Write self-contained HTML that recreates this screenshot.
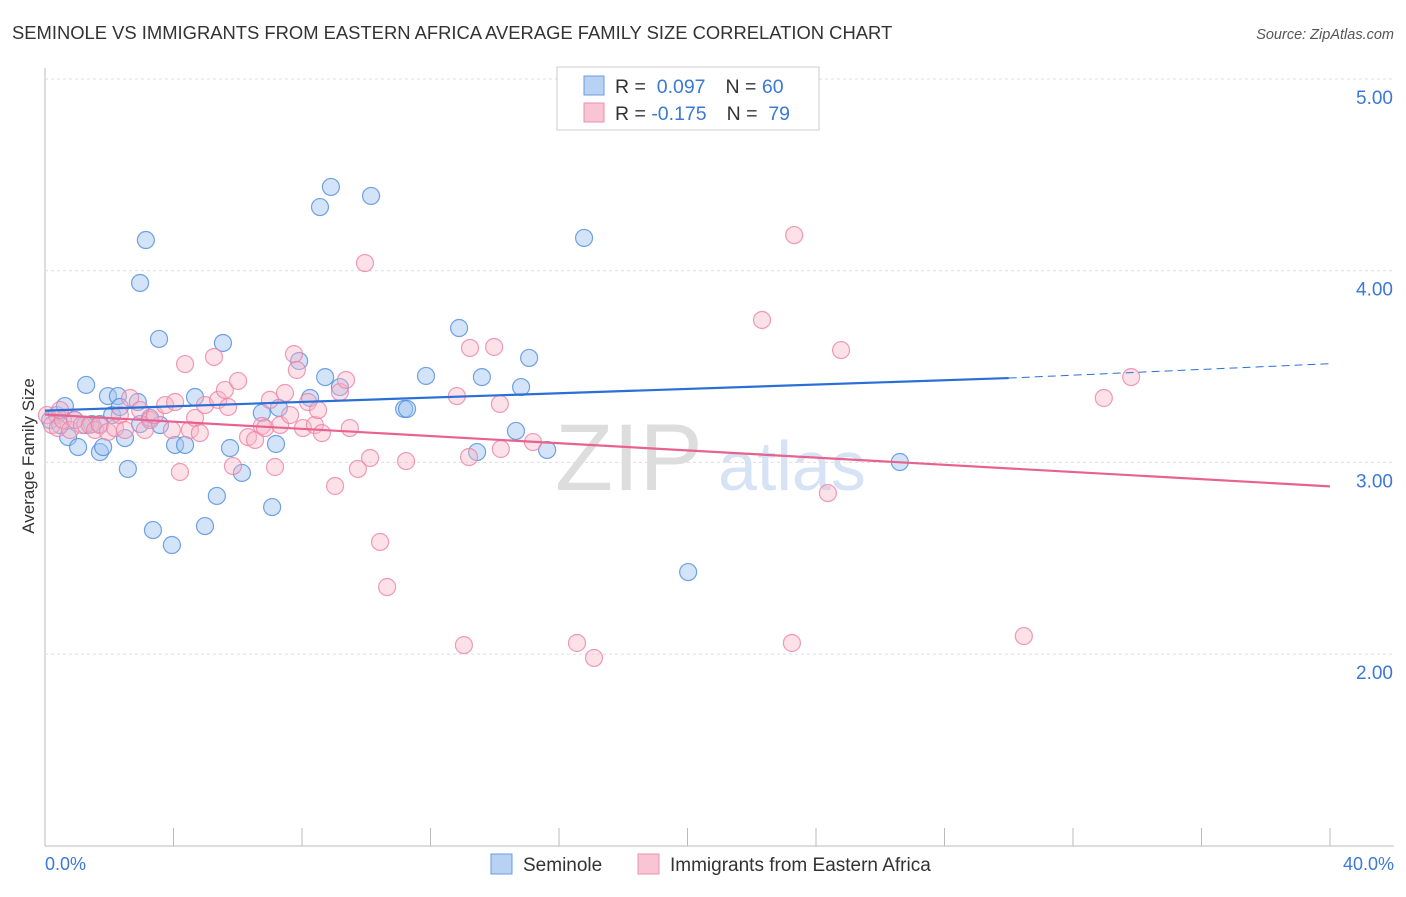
<!DOCTYPE html>
<html><head><meta charset="utf-8"><style>
body{margin:0;background:#fff;font-family:"Liberation Sans",sans-serif}
svg text{font-family:"Liberation Sans",sans-serif}
</style></head><body>
<svg id="c" width="1406" height="892">
<text x="12" y="39" font-size="18.4" fill="#333">SEMINOLE VS IMMIGRANTS FROM EASTERN AFRICA AVERAGE FAMILY SIZE CORRELATION CHART</text>
<text x="1394" y="39" font-size="14.5" fill="#555" text-anchor="end" font-style="italic">Source: ZipAtlas.com</text>
<text x="34" y="456" font-size="17" fill="#333" text-anchor="middle" transform="rotate(-90 34 456)">Average Family Size</text>
<text x="555" y="490" font-size="95" fill="#ddd" font-family="Liberation Serif">ZIP</text>
<text x="718" y="490" font-size="70" fill="#d6e3f5">atlas</text>
<g id="grid"></g><g id="pts"></g><g id="lines"></g>
<g>
<rect x="557" y="67" width="262" height="63" fill="#fff" stroke="#ccc"/>
<rect x="584" y="76" width="20" height="19" fill="#b8d2f3" stroke="#6a9be0"/>
<rect x="584" y="103" width="20" height="19" fill="#f9c5d4" stroke="#ec8fab"/>
<text x="615" y="93" font-size="19.5" fill="#333">R = <tspan fill="#3b78d8">&#160;0.097</tspan><tspan dx="20" fill="#333">N = </tspan><tspan fill="#3b78d8">60</tspan></text>
<text x="615" y="120" font-size="19.5" fill="#333">R = <tspan fill="#3b78d8">-0.175</tspan><tspan dx="20" fill="#333">N = </tspan><tspan fill="#3b78d8">&#160;79</tspan></text>
</g>
<g>
<rect x="491" y="854" width="21" height="20" fill="#b8d2f3" stroke="#6a9be0"/>
<text x="523" y="871" font-size="19" fill="#333">Seminole</text>
<rect x="638" y="854" width="21" height="20" fill="#f9c5d4" stroke="#ec8fab"/>
<text x="670" y="871" font-size="19" fill="#333">Immigrants from Eastern Africa</text>
</g>
<text x="45" y="870" font-size="18" fill="#3b78d8">0.0%</text>
<text x="1394" y="870" font-size="18" fill="#3b78d8" text-anchor="end">40.0%</text>
</svg>
<script>
const yTicks=[2,3,4,5];
const yTickLabels=["2.00","3.00","4.00","5.00"];
const xTicks=[0,4,8,12,16,20,24,28,32,36,40];
const bluePx=[[50,420],[57,415],[65,406],[68,437],[75,420],[78,447],[86,385],[92,424],[100,452],[103,447],[108,396],[112,415],[118,396],[120,407],[125,438],[128,469],[138,402],[140,283],[140,424],[146,240],[150,418],[153,530],[159,339],[172,545],[175,445],[185,445],[195,397],[205,526],[217,496],[223,343],[230,448],[242,473],[262,413],[272,507],[276,444],[279,408],[299,361],[310,398],[320,207],[325,377],[331,187],[340,387],[371,196],[404,409],[407,409],[426,376],[459,328],[477,452],[482,377],[516,431],[521,387],[529,358],[547,450],[584,238],[688,572],[900,462],[100,424],[60,425],[85,425],[160,425]];
const pinkPx=[[47,415],[52,425],[58,428],[63,420],[70,430],[75,420],[82,425],[90,425],[95,430],[100,425],[108,432],[115,428],[120,415],[125,430],[130,398],[140,410],[145,430],[150,420],[155,415],[165,405],[172,430],[175,402],[180,472],[185,364],[190,430],[195,418],[200,433],[205,405],[214,357],[218,400],[225,390],[228,407],[233,466],[238,381],[248,437],[255,440],[262,426],[265,428],[270,400],[275,467],[280,425],[285,393],[290,415],[294,354],[297,370],[303,428],[308,402],[315,425],[318,410],[322,433],[335,486],[340,392],[346,380],[350,428],[358,469],[365,263],[370,458],[380,542],[387,587],[406,461],[457,396],[464,645],[469,457],[470,348],[494,347],[500,404],[501,449],[533,442],[577,643],[594,658],[762,320],[792,643],[794,235],[828,493],[841,350],[1024,636],[1104,398],[1131,377],[60,410]];
const seminoleX=bluePx.map(p=>+((p[0]-45)/1285*40).toFixed(2));
const seminoleY=bluePx.map(p=>+(5-(p[1]-79)/191.7).toFixed(3));
const immigrantsX=pinkPx.map(p=>+((p[0]-45)/1285*40).toFixed(2));
const immigrantsY=pinkPx.map(p=>+(5-(p[1]-79)/191.7).toFixed(3));
const blueTrend=[3.27,3.44,3.515];
const pinkTrend=[3.25,2.875];
const X=v=>45+v/40*1285, Y=v=>79+(5-v)*191.7;
const NS="http://www.w3.org/2000/svg";
function mk(t,a,p){const e=document.createElementNS(NS,t);for(const k in a)e.setAttribute(k,a[k]);p.appendChild(e);return e;}
const g=document.getElementById('grid');
mk('line',{x1:45,y1:68,x2:45,y2:846,stroke:'#bbb'},g);
mk('line',{x1:45,y1:846,x2:1394,y2:846,stroke:'#bbb'},g);
yTicks.forEach((t,i)=>{
 const l=mk('line',{x1:45,y1:Y(t),x2:1394,y2:Y(t),stroke:'#ddd','stroke-dasharray':'3,3'},g);
 
 
 const tx=mk('text',{x:1393,y:Y(t)+25,'font-size':19,fill:'#3b78d8','text-anchor':'end'},g);
 tx.textContent=yTickLabels[i];
 
 
});
xTicks.forEach(t=>{
 const l=mk('line',{x1:X(t),y1:828,x2:X(t),y2:846,stroke:'#bbb'},g);
 
 
});
const P=document.getElementById('pts');
function dots(xs,ys,fill,stroke,name){xs.forEach((x,i)=>{
 const c=mk('circle',{cx:X(x),cy:Y(ys[i]),r:8.5,fill:fill,stroke:stroke,'stroke-width':1.2},P);
 
 
});}
dots(seminoleX,seminoleY,'rgba(160,195,240,0.45)','rgba(80,140,220,0.8)','seminole-point');
dots(immigrantsX,immigrantsY,'rgba(248,180,200,0.4)','rgba(236,130,165,0.8)','immigrants-point');
const L=document.getElementById('lines');
let e=mk('line',{x1:X(0),y1:Y(blueTrend[0]),x2:X(30),y2:Y(blueTrend[1]),stroke:'#2a6fd6','stroke-width':2.2},L);

e=mk('line',{x1:X(30),y1:Y(blueTrend[1]),x2:X(40),y2:Y(blueTrend[2]),stroke:'#2a6fd6','stroke-width':1,'stroke-dasharray':'8,5'},L);

e=mk('line',{x1:X(0),y1:Y(pinkTrend[0]),x2:X(40),y2:Y(pinkTrend[1]),stroke:'#e8628f','stroke-width':2.2},L);

</script>
</body></html>
